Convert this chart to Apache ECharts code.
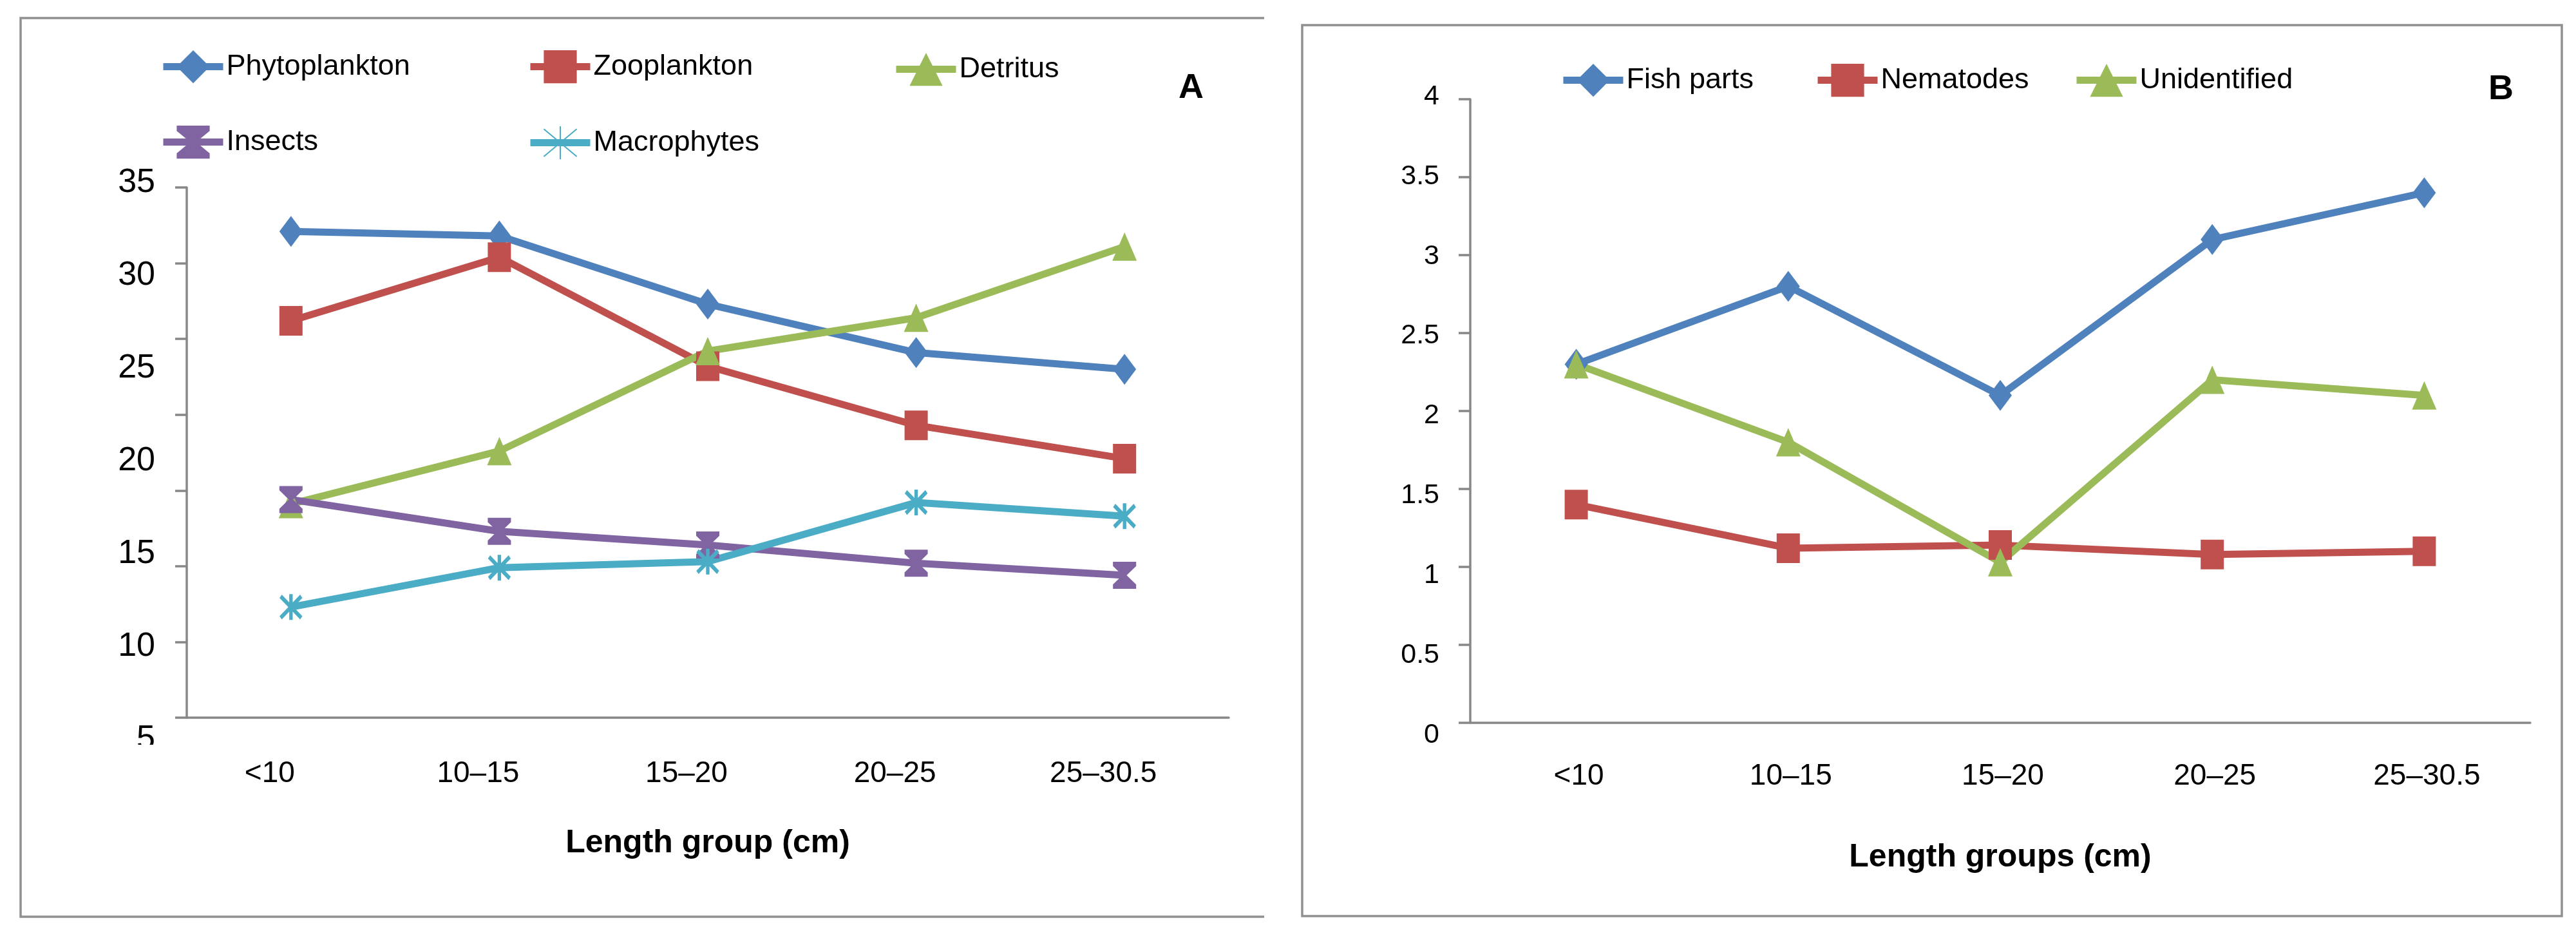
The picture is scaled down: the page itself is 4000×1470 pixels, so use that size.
<!DOCTYPE html>
<html>
<head>
<meta charset="utf-8">
<script src="https://cdn.jsdelivr.net/npm/echarts@6/dist/echarts.min.js"></script>
<style>html,body{margin:0;padding:0;background:#fff}#c{width:4000px;height:1470px}</style>
</head>
<body>
<div id="c"></div>
<script>
// ---- data ----
const categories = ['<10', '10–15', '15–20', '20–25', '25–30.5'];
// Panel A
const phytoplankton = [32.1, 31.8, 27.3, 24.1, 23.0];
const zooplankton = [26.2, 30.4, 23.2, 19.3, 17.1];
const detritus = [14.1, 17.6, 24.2, 26.4, 31.1];
const insects = [14.4, 12.3, 11.4, 10.2, 9.4];
const macrophytes = [7.3, 9.9, 10.3, 14.2, 13.3];
// Panel B
const fishParts = [2.3, 2.8, 2.1, 3.1, 3.4];
const nematodes = [1.4, 1.12, 1.14, 1.08, 1.1];
const unidentified = [2.3, 1.8, 1.03, 2.2, 2.1];
// axis labels
const yLabelsA = [5, 35, 5];      // min, max, step of printed labels (panel A)
const yTicksA = [0, 35, 5];       // min, max, step of tick marks (panel A)
const yLabelsB = [0, 4, 0.5];
const xTitleA = 'Length group (cm)';
const xTitleB = 'Length groups (cm)';

const FONT = "'Liberation Sans Narrow', 'Liberation Sans', Arial, sans-serif";
const GRAY = '#878787';
const C = {blue:'#4F81BD', red:'#C0504D', green:'#9BBB59', purple:'#8064A2', cyan:'#4BACC6'};
const HOURGLASS = 'path://M0,0 L10,0 L10,1.6 L5.9,5 L10,8.4 L10,10 L0,10 L0,8.4 L4.1,5 L0,1.6 Z';
const ASTER = 'path://M0,0 L10,10 M10,0 L0,10 M5,-1 L5,11';

function line(name, data, color, symbol, xi, yi, extra) {
  return Object.assign({
    name, type: 'line', data, xAxisIndex: xi, yAxisIndex: yi,
    symbol, symbolSize: [36, 48],
    lineStyle: {color, width: 11},
    itemStyle: {color},
    z: 3
  }, extra || {});
}

function lg(name, left, center) {
  return {
    data: [name], left, top: center - 32, itemWidth: 93, itemHeight: 64, padding: 0, itemGap: 0,
    lineStyle: {width: 11},
    textStyle: {fontFamily: FONT, fontSize: 45, color: '#000', padding: [0,0,0,0]}
  };
}

const option = {
  animation: false,
  backgroundColor: '#fff',
  title: [
    {text: 'A', left: 1830, top: 110, padding: 0, textStyle: {fontFamily: FONT, fontSize: 54, fontWeight: 'bold', color: '#000'}},
    {text: 'B', left: 3864, top: 112, padding: 0, textStyle: {fontFamily: FONT, fontSize: 54, fontWeight: 'bold', color: '#000'}}
  ],
  legend: [
    lg('Phytoplankton', 248, 110), lg('Zooplankton', 818, 110), lg('Detritus', 1386, 114),
    lg('Insects', 248, 227), lg('Macrophytes', 818, 227),
    lg('Fish parts', 2422, 131), lg('Nematodes', 2817, 131), lg('Unidentified', 3219, 131)
  ],
  grid: [
    {left: 290, top: 291, width: 1618, height: 823},
    {left: 290, top: 284, width: 1618, height: 864},
    {left: 2283, top: 154, width: 1646, height: 968},
    {left: 2283, top: 150, width: 1646, height: 991}
  ],
  xAxis: [
    {type: 'category', gridIndex: 0, data: categories,
     axisLine: {lineStyle: {color: GRAY, width: 3.5}}, axisTick: {show: false},
     axisLabel: {fontFamily: FONT, fontSize: 46, color: '#000', margin: 64, padding: [0, 66, 0, 0]},
     name: xTitleA, nameLocation: 'middle', nameGap: 170,
     nameTextStyle: {fontFamily: FONT, fontSize: 50, fontWeight: 'bold', color: '#000'}},
    {type: 'category', gridIndex: 1, data: categories, show: false},
    {type: 'category', gridIndex: 2, data: categories,
     axisLine: {lineStyle: {color: GRAY, width: 3.5}}, axisTick: {show: false},
     axisLabel: {fontFamily: FONT, fontSize: 46, color: '#000', margin: 60, padding: [0, 0, 0, 8]},
     name: xTitleB, nameLocation: 'middle', nameGap: 184,
     nameTextStyle: {fontFamily: FONT, fontSize: 50, fontWeight: 'bold', color: '#000'}},
    {type: 'category', gridIndex: 3, data: categories, show: false}
  ],
  yAxis: [
    {type: 'value', gridIndex: 0, min: yTicksA[0], max: yTicksA[1], interval: yTicksA[2],
     axisLine: {show: true, lineStyle: {color: GRAY, width: 3.5}},
     axisTick: {show: true, length: 18, lineStyle: {color: GRAY, width: 3.5}},
     axisLabel: {show: false}, splitLine: {show: false}},
    {type: 'value', gridIndex: 1, min: yLabelsA[0], max: yLabelsA[1], interval: yLabelsA[2],
     axisLine: {show: false}, axisTick: {show: false}, splitLine: {show: false},
     axisLabel: {fontFamily: FONT, fontSize: 52, color: '#000', margin: 49}},
    {type: 'value', gridIndex: 2, min: yLabelsB[0], max: yLabelsB[1], interval: yLabelsB[2],
     axisLine: {show: true, lineStyle: {color: GRAY, width: 3.5}},
     axisTick: {show: true, length: 18, lineStyle: {color: GRAY, width: 3.5}},
     axisLabel: {show: false}, splitLine: {show: false}},
    {type: 'value', gridIndex: 3, min: yLabelsB[0], max: yLabelsB[1], interval: yLabelsB[2],
     axisLine: {show: false}, axisTick: {show: false}, splitLine: {show: false},
     axisLabel: {fontFamily: FONT, fontSize: 43, color: '#000', margin: 48}}
  ],
  series: [
    line('Phytoplankton', phytoplankton, C.blue, 'diamond', 0, 0),
    line('Zooplankton', zooplankton, C.red, 'rect', 0, 0, {symbolSize: [36, 46]}),
    line('Detritus', detritus, C.green, 'triangle', 0, 0, {symbolSize: [38, 44]}),
    line('Insects', insects, C.purple, HOURGLASS, 0, 0, {symbolSize: [36, 42]}),
    line('Macrophytes', macrophytes, C.cyan, ASTER, 0, 0,
         {symbolSize: [32, 40], itemStyle: {color: C.cyan, borderColor: C.cyan, borderWidth: 6}}),
    line('Fish parts', fishParts, C.blue, 'diamond', 2, 2),
    line('Nematodes', nematodes, C.red, 'rect', 2, 2, {symbolSize: [36, 46]}),
    line('Unidentified', unidentified, C.green, 'triangle', 2, 2, {symbolSize: [38, 44]})
  ],
  graphic: [
    {type: 'polyline', z: 50, shape: {points: [[1963, 28], [32, 28], [32, 1423], [1963, 1423]]},
     style: {stroke: '#909090', lineWidth: 3.5, fill: null}},
    {type: 'rect', z: 50, shape: {x: 2022, y: 39, width: 1956, height: 1383},
     style: {stroke: '#909090', lineWidth: 3.5, fill: null}},
    {type: 'rect', z: 100, shape: {x: 160, y: 1156, width: 110, height: 40},
     style: {fill: '#fff'}}
  ]
};

const chart = echarts.init(document.getElementById('c'));
chart.setOption(option);
</script>
</body>
</html>
